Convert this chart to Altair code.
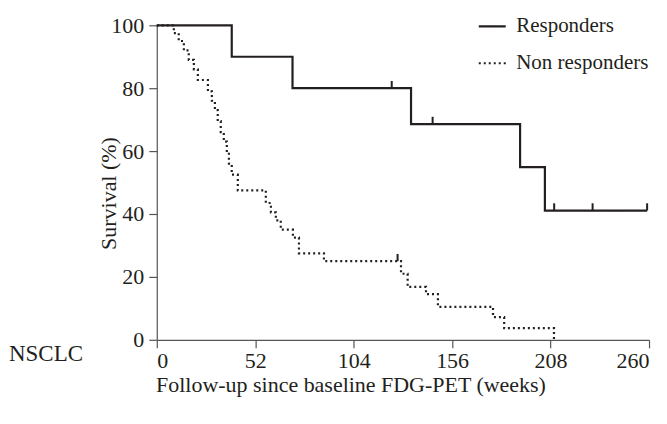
import altair as alt
import pandas as pd

# Kaplan-Meier step data
resp_weeks = [0, 39.6, 71.7, 134.3, 191.9, 205.0, 259.0]
resp_surv = [100, 90.0, 80.0, 68.6, 54.9, 41.1, 41.1]
resp_censor_weeks = [124.1, 145.7, 209.9, 230.2, 259.0]
resp_censor_surv = [80.0, 68.6, 41.1, 41.1, 41.1]

non_weeks = [0, 9.0, 11.6, 14.3, 16.9, 19.6, 21.7, 27.0, 29.1, 30.7, 32.2, 33.8,
             35.4, 37.0, 38.1, 39.6, 42.8, 57.6, 60.3, 62.9, 65.5, 71.9, 75.1,
             88.3, 129.0, 132.5, 142.2, 148.5, 177.6, 183.5, 209.8]
non_surv = [100, 97.5, 95.0, 92.0, 89.0, 86.0, 82.6, 79.0, 76.0, 73.0, 69.5, 66.0,
            63.0, 59.5, 56.0, 52.5, 47.5, 43.5, 40.5, 38.0, 35.0, 32.5, 27.5,
            25.0, 21.0, 16.8, 14.5, 10.5, 7.2, 3.7, 0.0]
non_censor_weeks = [127.2]
non_censor_surv = [25.0]

groups = ["Responders", "Non responders"]
x_ticks = [0, 52, 104, 156, 208, 260]
y_ticks = [0, 20, 40, 60, 80, 100]

INK = "#231f20"
FONT = "Liberation Serif"

curves = pd.concat([
    pd.DataFrame({"weeks": resp_weeks, "surv": resp_surv, "group": groups[0]}),
    pd.DataFrame({"weeks": non_weeks, "surv": non_surv, "group": groups[1]}),
])
curves["order"] = range(len(curves))

TICK_LEN = 2.3
censors = pd.concat([
    pd.DataFrame({"weeks": resp_censor_weeks, "surv": resp_censor_surv}),
    pd.DataFrame({"weeks": non_censor_weeks, "surv": non_censor_surv}),
])
censors["top"] = censors["surv"] + TICK_LEN

xscale = alt.Scale(domain=[0, 260], nice=False, zero=False)
yscale = alt.Scale(domain=[0, 100], nice=False)

xaxis = alt.Axis(values=x_ticks, grid=False, tickSize=8, labelPadding=3,
                 labelFont=FONT, labelFontSize=22, labelColor=INK,
                 titleFont=FONT, titleFontSize=22, titleColor=INK, titleFontWeight="normal",
                 titleX=194, titleY=45, titleBaseline="middle",
                 domainColor="#555", tickColor="#555", domainWidth=1.2, tickWidth=1.2)
yaxis = alt.Axis(values=y_ticks, grid=False, tickSize=8, labelPadding=5,
                 labelFont=FONT, labelFontSize=22, labelColor=INK,
                 titleFont=FONT, titleFontSize=22, titleColor=INK, titleFontWeight="normal",
                 titleX=-36, titleY=168, domainColor="#555", tickColor="#555",
                 domainWidth=1.2, tickWidth=1.2)

lines = alt.Chart(curves).mark_line(interpolate="step-after", strokeWidth=2.2,
                                    color=INK, strokeCap="butt").encode(
    x=alt.X("weeks:Q", scale=xscale, axis=xaxis,
            title="Follow-up since baseline FDG-PET (weeks)"),
    y=alt.Y("surv:Q", scale=yscale, axis=yaxis, title="Survival (%)"),
    strokeDash=alt.StrokeDash(
        "group:N",
        scale=alt.Scale(domain=groups, range=[[1, 0], [2, 3]]),
        legend=alt.Legend(title=None, orient="none", legendX=321, legendY=-14,
                          symbolType="stroke", symbolSize=729, symbolStrokeWidth=2.2,
                          symbolStrokeColor=INK, padding=0, rowPadding=12,
                          labelFont=FONT, labelFontSize=21, labelColor=INK,
                          labelOffset=9),
    ),
    detail="group:N",
    order="order:Q",
)

ticks = alt.Chart(censors).mark_rule(color=INK, strokeWidth=2).encode(
    x=alt.X("weeks:Q", scale=xscale),
    y=alt.Y("surv:Q", scale=yscale),
    y2="top:Q",
)

label = alt.Chart(pd.DataFrame({"t": ["NSCLC"]})).mark_text(
    font=FONT, fontSize=23, color=INK, align="left", baseline="middle"
).encode(text="t:N", x=alt.value(-148), y=alt.value(329))

chart = alt.layer(lines, ticks, label).properties(
    width=493, height=315,
    autosize=alt.AutoSizeParams(type="none"),
    padding={"left": 149, "top": 17, "right": 10, "bottom": 76},
).configure_view(stroke=None)

chart.save("out.html", embed_options={"renderer": "svg", "actions": False})
